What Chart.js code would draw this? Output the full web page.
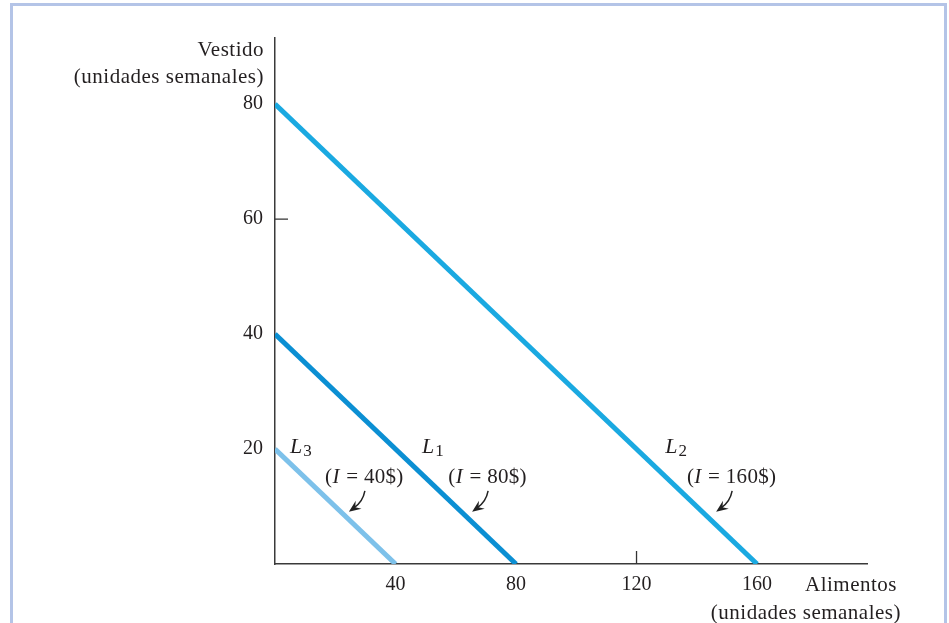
<!DOCTYPE html>
<html>
<head>
<meta charset="utf-8">
<script src="https://cdn.jsdelivr.net/npm/chart.js@4/dist/chart.umd.min.js"></script>
<style>
  html, body { margin: 0; padding: 0; background: #fff; overflow: hidden; }
  #wrap { position: relative; width: 949px; height: 623px; }
  #frame { position: absolute; left: 10px; top: 3px; width: 937px; height: 700px;
           border: 3px solid #b4c4e7; box-sizing: border-box; pointer-events: none; }
  canvas { position: absolute; left: 0; top: 0; }
</style>
</head>
<body>
<div id="wrap">
  <canvas id="c" width="949" height="623"></canvas>
  <div id="frame"></div>
</div>
<script>
// ---- data ----
const lineNames   = ['L3', 'L1', 'L2'];
const incomes     = ['40$', '80$', '160$'];
const foodMax     = [40, 80, 160];   // x-intercepts (Alimentos)
const clothingMax = [20, 40, 80];    // y-intercepts (Vestido)
const xTickLabels = [40, 80, 120, 160];
const yTickLabels = [20, 40, 60, 80];

const colors = ['#7dc1ea', '#0b8fd3', '#1aa9e1'];
const FONT = '"Liberation Serif", "Times New Roman", serif';
const TXT = '#231f20';

const datasets = lineNames.map((n, i) => ({
  label: n,
  data: [{x: 0, y: clothingMax[i]}, {x: foodMax[i], y: 0}],
  borderColor: colors[i],
  borderWidth: 5,
  pointRadius: 0,
  tension: 0,
  borderCapStyle: 'butt',
  clip: 0
}));

// annotation anchors in data units
const nameAnchors = [{x: 5.0, y: 19.3}, {x: 48.8, y: 19.3}, {x: 129.5, y: 19.3}];
const incomeAnchors = [{x: 29.5, y: 15}, {x: 70.4, y: 15}, {x: 151.4, y: 15}];

const decor = {
  id: 'decor',
  afterDraw(chart) {
    const ctx = chart.ctx;
    const xs = chart.scales.x, ys = chart.scales.y;
    const ca = chart.chartArea;
    ctx.save();
    // inner tick marks
    ctx.strokeStyle = '#333';
    ctx.lineWidth = 1.3;
    ctx.beginPath();
    const ty = ys.getPixelForValue(60);
    ctx.moveTo(ca.left, ty); ctx.lineTo(ca.left + 13, ty);
    const tx = xs.getPixelForValue(120);
    ctx.moveTo(tx, ca.bottom); ctx.lineTo(tx, ca.bottom - 13);
    ctx.stroke();

    ctx.fillStyle = TXT;
    ctx.font = '21px ' + FONT;
    ctx.textBaseline = 'middle';
    ctx.letterSpacing = '0.5px';
    // y-axis title
    ctx.textAlign = 'right';
    ctx.fillText('Vestido', ca.left - 11, ca.top + 12);
    ctx.fillText('(unidades semanales)', ca.left - 11, ca.top + 39);
    // x-axis title
    ctx.textAlign = 'left';
    ctx.fillText('Alimentos', 805, ca.bottom + 21);
    ctx.textAlign = 'right';
    ctx.fillText('(unidades semanales)', 901, ca.bottom + 49);
    ctx.letterSpacing = '0px';

    // line names: italic L with subscript
    ctx.textBaseline = 'alphabetic';
    ctx.textAlign = 'left';
    lineNames.forEach((n, i) => {
      const px = xs.getPixelForValue(nameAnchors[i].x);
      const py = ys.getPixelForValue(nameAnchors[i].y);
      ctx.font = 'italic 22px ' + FONT;
      ctx.fillText(n[0], px, py);
      const w = ctx.measureText(n[0]).width;
      ctx.font = '17px ' + FONT;
      ctx.fillText(n.slice(1), px + w + 1, py + 3);
    });

    // income labels with arrows
    ctx.letterSpacing = '0.3px';
    incomes.forEach((inc, i) => {
      const cx = xs.getPixelForValue(incomeAnchors[i].x);
      const cy = ys.getPixelForValue(incomeAnchors[i].y);
      const parts = [['(', false], ['I', true], [' = ' + inc + ')', false]];
      let total = 0;
      parts.forEach(p => { ctx.font = (p[1] ? 'italic ' : '') + '21px ' + FONT; total += ctx.measureText(p[0]).width; });
      let x = cx - total / 2;
      ctx.textBaseline = 'middle';
      parts.forEach(p => {
        ctx.font = (p[1] ? 'italic ' : '') + '21px ' + FONT;
        ctx.fillText(p[0], x, cy);
        x += ctx.measureText(p[0]).width + (p[1] ? 1 : 0);
      });
      // arrow
      const sx = cx + 1, sy = cy + 13;
      const qx = cx - 1, qy = cy + 24;
      const ex = cx - 15, ey = cy + 34;
      ctx.strokeStyle = '#222';
      ctx.lineWidth = 1.5;
      ctx.beginPath();
      ctx.moveTo(sx, sy);
      ctx.quadraticCurveTo(qx, qy, ex + 5, ey - 4);
      ctx.stroke();
      const ang = Math.atan2(ey - qy, ex - qx);
      const L = 12, W = 5;
      ctx.fillStyle = '#222';
      ctx.beginPath();
      ctx.moveTo(ex, ey);
      ctx.lineTo(ex - L * Math.cos(ang) + W * Math.sin(ang), ey - L * Math.sin(ang) - W * Math.cos(ang));
      ctx.lineTo(ex - L * 0.65 * Math.cos(ang), ey - L * 0.65 * Math.sin(ang));
      ctx.lineTo(ex - L * Math.cos(ang) - W * Math.sin(ang), ey - L * Math.sin(ang) + W * Math.cos(ang));
      ctx.closePath();
      ctx.fill();
      ctx.fillStyle = TXT;
    });
    ctx.letterSpacing = '0px';
    ctx.restore();
  }
};

new Chart(document.getElementById('c'), {
  type: 'line',
  data: { datasets },
  options: {
    responsive: false,
    animation: false,
    events: [],
    layout: { padding: { left: 0, top: 38, right: 82, bottom: 0 } },
    plugins: { legend: { display: false }, tooltip: { enabled: false }, title: { display: false } },
    scales: {
      x: {
        type: 'linear', min: 0, max: 196.5,
        afterBuildTicks: s => { s.ticks = xTickLabels.map(v => ({ value: v })); },
        afterFit: s => { s.height = 59; },
        grid: { display: false, drawTicks: false },
        border: { display: true, color: '#3a3a3a', width: 1.5 },
        ticks: { color: TXT, font: { family: FONT, size: 20 }, padding: 9, maxRotation: 0, autoSkip: false }
      },
      y: {
        type: 'linear', min: 0, max: 91.5,
        afterBuildTicks: s => { s.ticks = yTickLabels.map(v => ({ value: v })); },
        afterFit: s => { s.width = 275; },
        grid: { display: false, drawTicks: false },
        border: { display: true, color: '#3a3a3a', width: 1.5 },
        ticks: { color: TXT, font: { family: FONT, size: 20 }, padding: 12, autoSkip: false }
      }
    }
  },
  plugins: [decor]
});
</script>
</body>
</html>
